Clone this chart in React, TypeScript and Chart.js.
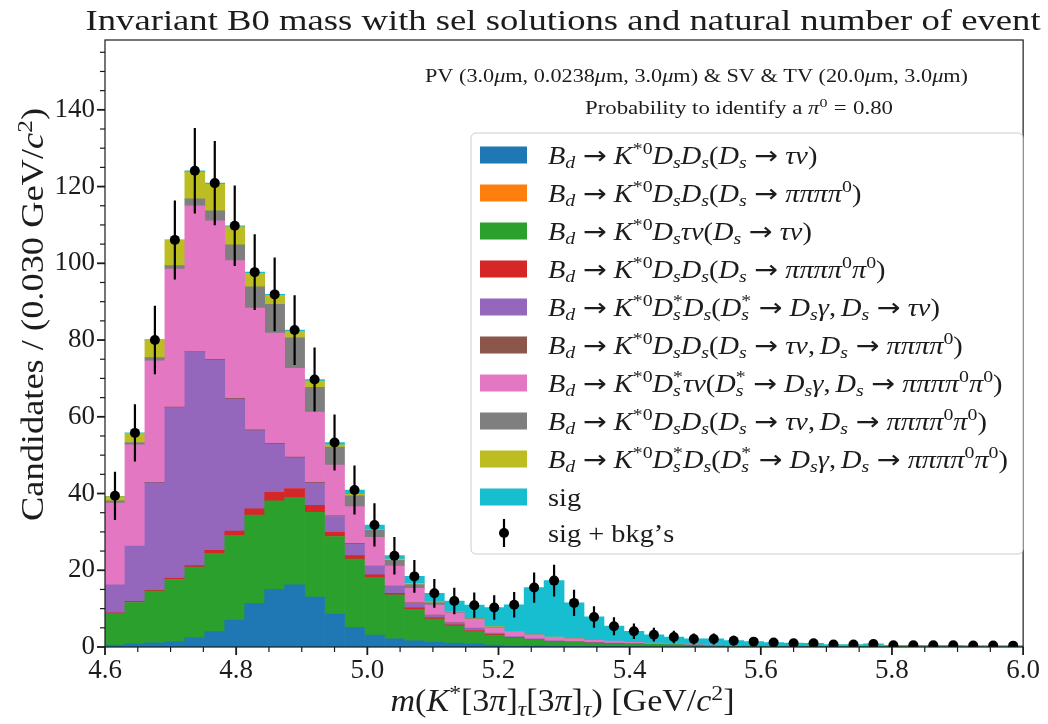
import React, { useEffect, useRef } from 'react';
import { Chart, registerables } from 'chart.js';

Chart.register(...registerables);

// ---------------- binning ----------------
const massMin = 4.6;
const massMax = 6.0;
const nBins = 46;
const binCenters: number[] = Array.from({ length: nBins }, (_, i) => massMin + ((i + 0.5) * (massMax - massMin)) / nBins);

// ---------------- stacked components (candidates / bin) ----------------
const bdDsDsTauNu = [0.5, 0.8, 1.1, 1.4, 2.4, 4.0, 7.0, 11.4, 15.0, 16.2, 13.0, 8.6, 5.1, 3.1, 2.1, 1.6, 1.3, 1.0, 0.8, 0.5, 0.4, 0.3, 0.25, 0.2, 0.15, 0.1, 0.1, 0.05, 0.05, 0.05, 0.05, 0.03, 0.03, 0.02, 0.02, 0.02, 0.02, 0.01, 0.01, 0.01, 0.01, 0.01, 0.01, 0.01, 0.01, 0.01];
const bdDsDs3PiPi0 = [0, 0, 0, 0, 0, 0, 0, 0, 0, 0, 0, 0, 0, 0, 0, 0, 0, 0, 0, 0, 0, 0, 0, 0, 0, 0, 0, 0, 0, 0, 0, 0, 0, 0, 0, 0, 0, 0, 0, 0, 0, 0, 0, 0, 0, 0];
const bdDsTauNuTauNu = [8.3, 10.8, 13.5, 16.2, 18.4, 20.4, 22.1, 23.0, 23.1, 22.8, 22.1, 20.2, 17.8, 15.0, 11.5, 8.2, 6.0, 4.5, 3.2, 2.6, 1.9, 1.5, 1.15, 1.0, 0.85, 0.8, 0.7, 0.65, 0.55, 0.45, 0.35, 0.3, 0.27, 0.25, 0.22, 0.2, 0.18, 0.17, 0.16, 0.15, 0.14, 0.13, 0.12, 0.11, 0.1, 0.1];
const bdDsDs3Pi2Pi0 = [0.1, 0.3, 0.2, 0.3, 0.4, 0.8, 1.1, 1.6, 2.2, 2.3, 1.8, 1.1, 0.9, 0.7, 0.4, 0.5, 0.4, 0.3, 0.3, 0.2, 0.15, 0.1, 0.05, 0.05, 0.05, 0.02, 0, 0, 0, 0, 0, 0, 0, 0, 0, 0, 0, 0, 0, 0, 0, 0, 0, 0, 0, 0];
const bdDsstDsTauNu = [7.3, 14.4, 28.0, 44.5, 55.7, 49.6, 34.4, 20.4, 12.6, 8.0, 5.8, 4.1, 3.0, 2.2, 1.8, 1.1, 0.55, 0.45, 0.6, 0.3, 0.25, 0.2, 0.15, 0.15, 0.15, 0.1, 0.1, 0.05, 0.05, 0, 0, 0, 0, 0, 0, 0, 0, 0, 0, 0, 0, 0, 0, 0, 0, 0];
const bdDsDsTauNu3PiPi0 = [0, 0, 0.1, 0.1, 0.1, 0.2, 0.2, 0.2, 0.2, 0.2, 0.2, 0.2, 0.2, 0.1, 0.1, 0.1, 0.05, 0.05, 0, 0, 0, 0, 0, 0, 0, 0, 0, 0, 0, 0, 0, 0, 0, 0, 0, 0, 0, 0, 0, 0, 0, 0, 0, 0, 0, 0];
const bdDsstTauNu3Pi2Pi0 = [21.3, 26.4, 31.7, 36.0, 38.0, 36.1, 35.9, 31.7, 28.7, 23.1, 18.3, 13.2, 9.6, 7.5, 5.2, 3.8, 2.6, 2.6, 2.3, 1.4, 1.1, 1.0, 0.9, 0.7, 0.6, 0.5, 0.3, 0.25, 0.15, 0.1, 0.1, 0.07, 0.05, 0.03, 0.03, 0.02, 0.02, 0.02, 0.01, 0.01, 0.01, 0.01, 0.01, 0.01, 0.01, 0.01];
const bdDsDsTauNu3Pi2Pi0 = [0.6, 0.6, 0.8, 0.9, 1.8, 2.6, 4.1, 5.6, 7.5, 8.0, 6.5, 4.7, 2.8, 1.9, 1.5, 1.0, 0.7, 0.2, 0.2, 0.2, 0.1, 0.05, 0.05, 0.05, 0.05, 0, 0, 0, 0, 0, 0, 0, 0, 0, 0, 0, 0, 0, 0, 0, 0, 0, 0, 0, 0, 0];
const bdDsstDs3Pi2Pi0 = [1.1, 2.4, 4.6, 6.6, 7.0, 6.9, 4.7, 3.5, 2.3, 1.7, 1.6, 0.6, 0.4, 0.2, 0.3, 0.3, 0.2, 0.1, 0.1, 0.1, 0.1, 0.05, 0.05, 0.05, 0, 0, 0, 0, 0, 0, 0, 0, 0, 0, 0, 0, 0, 0, 0, 0, 0, 0, 0, 0, 0, 0];
const signal = [0.1, 0.1, 0.1, 0.1, 0.3, 0.3, 0.3, 0.3, 0.3, 0.3, 0.4, 0.6, 1.1, 1.1, 0.9, 1.8, 2.2, 2.8, 3.4, 5.0, 7.0, 12.3, 14.7, 9.3, 6.0, 3.9, 2.9, 2.2, 1.8, 1.5, 1.6, 1.25, 1.05, 0.85, 0.73, 0.71, 0.43, 0.45, 0.62, 0.28, 0.29, 0.3, 0.31, 0.27, 0.28, 0.23];

// ---------------- sig + bkg's points ----------------
const sigPlusBkg = [39.4, 55.8, 80.0, 106.1, 124.1, 120.9, 109.8, 97.7, 91.9, 82.6, 69.7, 53.3, 40.9, 31.8, 23.8, 18.4, 14.0, 12.0, 10.9, 10.3, 11.0, 15.5, 17.3, 11.5, 7.8, 5.4, 4.1, 3.2, 2.6, 2.1, 2.1, 1.65, 1.4, 1.15, 1.0, 0.95, 0.65, 0.65, 0.8, 0.45, 0.45, 0.45, 0.45, 0.4, 0.4, 0.35];

// ---------------- labels ----------------
const legendLabels = [
  '$B_d → K^{*0}D_sD_s(D_s → τν)$',
  '$B_d → K^{*0}D_sD_s(D_s → ππππ^0)$',
  '$B_d → K^{*0}D_sτν(D_s → τν)$',
  '$B_d → K^{*0}D_sD_s(D_s → ππππ^0π^0)$',
  '$B_d → K^{*0}D_s^*D_s(D_s^* → D_sγ, D_s → τν)$',
  '$B_d → K^{*0}D_sD_s(D_s → τν, D_s → ππππ^0)$',
  '$B_d → K^{*0}D_s^*τν(D_s^* → D_sγ, D_s → ππππ^0π^0)$',
  '$B_d → K^{*0}D_sD_s(D_s → τν, D_s → ππππ^0π^0)$',
  '$B_d → K^{*0}D_s^*D_s(D_s^* → D_sγ, D_s → ππππ^0π^0)$',
  'sig',
];
const dataLabel = 'sig + bkg’s';

const xTickValues = [4.6, 4.8, 5.0, 5.2, 5.4, 5.6, 5.8, 6.0];
const xTickLabels = ['4.6', '4.8', '5.0', '5.2', '5.4', '5.6', '5.8', '6.0'];
const yTickValues = [0, 20, 40, 60, 80, 100, 120, 140];
const yTickLabels = ['0', '20', '40', '60', '80', '100', '120', '140'];
const yMax = 158.2;

const titleText = 'Invariant B0 mass with sel solutions and natural number of event';
const infoLine1 = 'PV (3.0$μ$m, 0.0238$μ$m, 3.0$μ$m) & SV & TV (20.0$μ$m, 3.0$μ$m)';
const infoLine2 = 'Probability to identify a $π^0 = 0.80$';
const yAxisTitle = 'Candidates / (0.030 GeV/$c^2$)';
const xAxisTitle = '$m(K^*[3π]_τ[3π]_τ)$ [GeV/$c^2$]';

// ---------------- styles ----------------
const seriesColors = ['#1f77b4', '#ff7f0e', '#2ca02c', '#d62728', '#9467bd', '#8c564b', '#e377c2', '#7f7f7f', '#bcbd22', '#17becf'];
const FONT = '"Liberation Serif", "Times New Roman", serif';
const ARROW_FONT = '"DejaVu Sans", sans-serif';
const TEXT_COLOR = '#1c1c1c';

// ---------------- tiny TeX-like text renderer ----------------
type Glyph = { s: string; it: boolean; sc: number; dy: number; x: number; fam?: string };

function fontOf(size: number, it: boolean, sc: number, fam?: string) {
  return `${it ? 'italic ' : ''}${(size * sc).toFixed(2)}px ${fam ?? FONT}`;
}

function layoutTex(ctx: CanvasRenderingContext2D, src: string, size: number) {
  const gl: Glyph[] = [];
  let x = 0;
  let math = false;
  let i = 0;
  let prevScript = '';
  let prevStart = 0;
  let prevW = 0;
  const isLetter = (c: string) => /[A-Za-z\u0370-\u03ff]/.test(c);
  const add = (s: string, it: boolean, sc: number, dy: number, at: number, fam?: string) => {
    ctx.font = fontOf(size, it, sc, fam);
    gl.push({ s, it, sc, dy, x: at, fam });
    return ctx.measureText(s).width;
  };
  while (i < src.length) {
    const c = src[i];
    if (c === '$') {
      math = !math;
      i++;
      prevScript = '';
      continue;
    }
    if (!math) {
      x += add(c, false, 1, 0, x);
      i++;
      prevScript = '';
      continue;
    }
    if (c === ' ') {
      i++;
      continue;
    }
    if (c === '^' || c === '_') {
      i++;
      let grp = '';
      if (src[i] === '{') {
        const j = src.indexOf('}', i);
        grp = src.slice(i + 1, j);
        i = j + 1;
      } else {
        grp = src[i];
        i++;
      }
      const paired = prevScript !== '' && prevScript !== c;
      const start = paired ? prevStart : x;
      const dy = c === '^' ? -0.37 * size : (paired ? 0.24 : 0.17) * size;
      let w = 0;
      for (const g of grp) w += add(g, isLetter(g), 0.7, dy, start + w);
      if (paired) {
        x = start + Math.max(w, prevW);
        prevScript = '';
      } else {
        x = start + w;
        prevScript = c;
        prevStart = start;
        prevW = w;
      }
      continue;
    }
    prevScript = '';
    if (c === '→') {
      x += 0.26 * size;
      x += add(c, false, 1, 0, x, ARROW_FONT);
      x += 0.26 * size;
    } else if (c === '=') {
      x += 0.28 * size;
      x += add(c, false, 1, 0, x);
      x += 0.28 * size;
    } else if (c === '+') {
      x += 0.22 * size;
      x += add(c, false, 1, 0, x);
      x += 0.22 * size;
    } else if (c === ',') {
      x += add(c, false, 1, 0, x);
      x += 0.17 * size;
    } else {
      x += add(c, isLetter(c), 1, 0, x);
    }
    i++;
  }
  return { gl, width: x };
}

function texWidth(ctx: CanvasRenderingContext2D, src: string, size: number) {
  return layoutTex(ctx, src, size).width;
}

function drawTex(
  ctx: CanvasRenderingContext2D,
  src: string,
  size: number,
  x: number,
  y: number,
  opts: { align?: 'left' | 'center' | 'right'; rot?: number; width?: number; stretch?: number } = {}
) {
  const { gl, width } = layoutTex(ctx, src, size);
  const sx = opts.width ? opts.width / width : opts.stretch ?? 1;
  const total = width * sx;
  const align = opts.align ?? 'left';
  const off = align === 'center' ? -total / 2 : align === 'right' ? -total : 0;
  ctx.save();
  ctx.translate(x, y);
  if (opts.rot) ctx.rotate(opts.rot);
  ctx.translate(off, 0);
  ctx.scale(sx, 1);
  ctx.fillStyle = TEXT_COLOR;
  ctx.textAlign = 'left';
  ctx.textBaseline = 'alphabetic';
  for (const g of gl) {
    ctx.font = fontOf(size, g.it, g.sc, g.fam);
    ctx.fillText(g.s, g.x, g.dy);
  }
  ctx.restore();
}

// ---------------- plugins ----------------
const errorBarPlugin = {
  id: 'errorBars',
  beforeDatasetDraw(chart: any, args: any) {
    const ds = chart.data.datasets[args.index];
    if (!ds.isDataPoints) return;
    const { ctx, chartArea: a, scales } = chart;
    ctx.save();
    ctx.beginPath();
    ctx.rect(a.left, a.top, a.right - a.left, a.bottom - a.top);
    ctx.clip();
    ctx.strokeStyle = '#000';
    ctx.lineWidth = 2.2;
    sigPlusBkg.forEach((n, i) => {
      const e = Math.sqrt(n);
      const px = scales.x.getPixelForValue(binCenters[i]);
      ctx.beginPath();
      ctx.moveTo(px, scales.y.getPixelForValue(n - e));
      ctx.lineTo(px, scales.y.getPixelForValue(n + e));
      ctx.stroke();
    });
    ctx.restore();
  },
};

const axesPlugin = {
  id: 'axesFrame',
  afterDraw(chart: any) {
    const { ctx, chartArea: a, scales } = chart;
    const xs = scales.x;
    const ys = scales.y;
    ctx.save();
    ctx.strokeStyle = '#1a1a1a';
    const line = (x1: number, y1: number, x2: number, y2: number, w: number) => {
      ctx.lineWidth = w;
      ctx.beginPath();
      ctx.moveTo(x1, y1);
      ctx.lineTo(x2, y2);
      ctx.stroke();
    };
    for (let k = 0; k <= 28; k++) {
      const px = xs.getPixelForValue(massMin + k * 0.05);
      const major = k % 4 === 0;
      line(px, a.bottom, px, a.bottom + (major ? 8 : 5), major ? 1.8 : 1.2);
    }
    for (let v = 0; v <= 155; v += 5) {
      const py = ys.getPixelForValue(v);
      const major = v % 20 === 0;
      line(a.left, py, a.left - (major ? 8 : 5), py, major ? 1.8 : 1.2);
    }
    ctx.lineWidth = 1.2;
    ctx.strokeRect(a.left, a.top, a.right - a.left, a.bottom - a.top);
    ctx.restore();
  },
};

const textPlugin = {
  id: 'texts',
  afterDraw(chart: any) {
    const { ctx, chartArea: a } = chart;
    const cx = (a.left + a.right) / 2;
    // title and axis titles
    drawTex(ctx, titleText, 30, cx - 1, 30, { align: 'center', width: 955 });
    drawTex(ctx, infoLine1, 18, 696.5, 82, { align: 'center', width: 543 });
    drawTex(ctx, infoLine2, 18, 739, 114, { align: 'center', width: 308 });
    drawTex(ctx, yAxisTitle, 31, 43, 314.5, { align: 'center', rot: -Math.PI / 2, width: 413 });
    drawTex(ctx, xAxisTitle, 31, cx - 1.5, 711, { align: 'center', width: 344 });

    // legend box
    const box = { l: 471, t: 133, r: 1023, b: 554 };
    const rad = 5;
    ctx.save();
    ctx.beginPath();
    ctx.moveTo(box.l + rad, box.t);
    ctx.arcTo(box.r, box.t, box.r, box.b, rad);
    ctx.arcTo(box.r, box.b, box.l, box.b, rad);
    ctx.arcTo(box.l, box.b, box.l, box.t, rad);
    ctx.arcTo(box.l, box.t, box.r, box.t, rad);
    ctx.closePath();
    ctx.fillStyle = 'rgba(255,255,255,0.8)';
    ctx.fill();
    ctx.strokeStyle = '#cccccc';
    ctx.lineWidth = 1;
    ctx.stroke();
    ctx.restore();

    const legSize = 25;
    const widest = Math.max(...legendLabels.map((l) => texWidth(ctx, l, legSize)));
    const stretch = 460 / widest;
    const rowGap = 38;
    const firstBaseline = 163.5;
    legendLabels.forEach((lab, i) => {
      const base = firstBaseline + i * rowGap;
      ctx.fillStyle = seriesColors[i];
      ctx.fillRect(480, base - 17, 47, 17);
      drawTex(ctx, lab, legSize, 548, base, { stretch });
    });
    const base = firstBaseline + legendLabels.length * rowGap - 2;
    const my = base - 8.5;
    ctx.save();
    ctx.strokeStyle = '#000';
    ctx.lineWidth = 2.2;
    ctx.beginPath();
    ctx.moveTo(504, my - 14);
    ctx.lineTo(504, my + 14);
    ctx.stroke();
    ctx.fillStyle = '#000';
    ctx.beginPath();
    ctx.arc(504, my, 5, 0, Math.PI * 2);
    ctx.fill();
    ctx.restore();
    drawTex(ctx, dataLabel, legSize, 548, base, { stretch });
  },
};

export default function App() {
  const ref = useRef<HTMLCanvasElement>(null);

  useEffect(() => {
    const canvas = ref.current;
    if (!canvas) return;
    Chart.defaults.font.family = FONT;

    const stackValues = [
      bdDsDsTauNu,
      bdDsDs3PiPi0,
      bdDsTauNuTauNu,
      bdDsDs3Pi2Pi0,
      bdDsstDsTauNu,
      bdDsDsTauNu3PiPi0,
      bdDsstTauNu3Pi2Pi0,
      bdDsDsTauNu3Pi2Pi0,
      bdDsstDs3Pi2Pi0,
      signal,
    ];

    const barSets: any[] = stackValues.map((vals, k) => ({
      type: 'bar',
      label: legendLabels[k],
      data: binCenters.map((c, i) => ({ x: c, y: vals[i] > 0 ? vals[i] : null })),
      backgroundColor: seriesColors[k],
      borderWidth: 0,
      barPercentage: 1,
      categoryPercentage: 1,
      grouped: false,
      stack: 'hist',
      order: 1,
    }));

    const pointSet: any = {
      type: 'scatter',
      label: dataLabel,
      isDataPoints: true,
      data: binCenters.map((c, i) => ({ x: c, y: sigPlusBkg[i] })),
      backgroundColor: '#000',
      borderWidth: 0,
      pointRadius: 5,
      pointHoverRadius: 5,
      clip: 0,
      order: 0,
    };

    const chart = new Chart(canvas, {
      type: 'bar',
      data: { datasets: [...barSets, pointSet] },
      options: {
        responsive: false,
        animation: false,
        devicePixelRatio: 1,
        layout: { padding: { top: 40, right: 20, left: 0, bottom: 0 } },
        plugins: {
          legend: { display: false },
          tooltip: { enabled: false },
          title: { display: false },
        },
        events: [],
        scales: {
          x: {
            type: 'linear',
            min: massMin,
            max: massMax,
            offset: false,
            grid: { display: false, drawTicks: false, tickLength: 0, offset: false },
            border: { display: false },
            ticks: {
              autoSkip: false,
              maxRotation: 0,
              minRotation: 0,
              padding: 8,
              color: TEXT_COLOR,
              font: { family: FONT, size: 27 },
              callback: (v: any) => {
                const idx = xTickValues.findIndex((t) => Math.abs(t - Number(v)) < 1e-6);
                return idx >= 0 ? xTickLabels[idx] : '';
              },
            },
            afterBuildTicks: (scale: any) => {
              scale.ticks = xTickValues.map((v) => ({ value: v }));
            },
            afterFit: (scale: any) => {
              scale.height = 77;
            },
          },
          y: {
            type: 'linear',
            stacked: true,
            min: 0,
            max: yMax,
            grid: { display: false, drawTicks: false, tickLength: 0 },
            border: { display: false },
            ticks: {
              padding: 10,
              color: TEXT_COLOR,
              font: { family: FONT, size: 27 },
              callback: (v: any) => {
                const idx = yTickValues.findIndex((t) => Math.abs(t - Number(v)) < 1e-6);
                return idx >= 0 ? yTickLabels[idx] : '';
              },
            },
            afterBuildTicks: (scale: any) => {
              scale.ticks = yTickValues.map((v) => ({ value: v }));
            },
            afterFit: (scale: any) => {
              scale.width = 105;
            },
          },
        },
      } as any,
      plugins: [errorBarPlugin, axesPlugin, textPlugin],
    });

    return () => chart.destroy();
  }, []);

  return (
    <div style={{ position: 'absolute', left: 0, top: 0, width: 1048, height: 724, background: '#fff' }}>
      <canvas ref={ref} width={1048} height={724} style={{ width: 1048, height: 724, display: 'block' }} />
    </div>
  );
}
